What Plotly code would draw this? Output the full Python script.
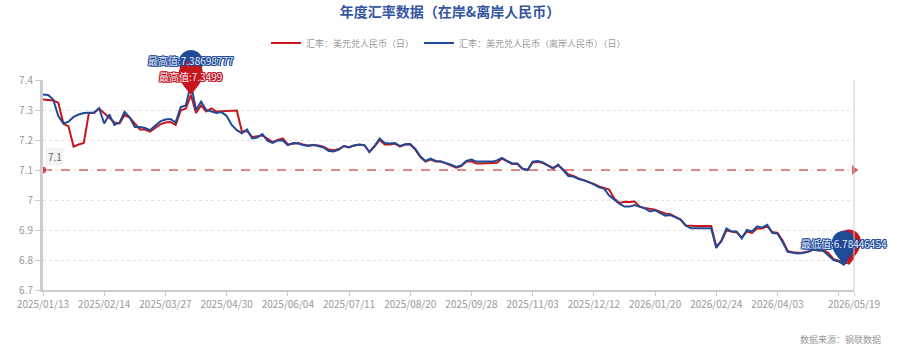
import plotly.graph_objects as go
import pandas as pd

# ---- category anchors (tick dates) ----
anchor_dates = ["2025-01-13", "2025-02-14", "2025-03-27", "2025-04-30", "2025-06-04",
                "2025-07-11", "2025-08-20", "2025-09-28", "2025-11-03", "2025-12-12",
                "2026-01-20", "2026-02-24", "2026-04-03", "2026-05-19"]
anchor_idx = [0, 12, 24, 36, 48, 60, 72, 84, 96, 108, 120, 132, 144, 159]

# ---- series values ----
offshore = [7.352, 7.350, 7.335, 7.280, 7.255, 7.261, 7.277, 7.285, 7.290, 7.290,
            7.292, 7.306, 7.255, 7.285, 7.250, 7.258, 7.294, 7.275, 7.243, 7.243,
            7.240, 7.233, 7.248, 7.262, 7.268, 7.270, 7.258, 7.310, 7.315, 7.38698777,
            7.300, 7.328, 7.300, 7.295, 7.290, 7.293, 7.280, 7.250, 7.233, 7.222,
            7.235, 7.205, 7.208, 7.220, 7.198, 7.190, 7.198, 7.198, 7.183, 7.190,
            7.188, 7.183, 7.180, 7.184, 7.180, 7.175, 7.163, 7.162, 7.168, 7.180,
            7.175, 7.182, 7.185, 7.183, 7.160, 7.180, 7.205, 7.190, 7.188, 7.190,
            7.180, 7.186, 7.187, 7.170, 7.145, 7.130, 7.138, 7.130, 7.128, 7.123,
            7.118, 7.110, 7.115, 7.130, 7.135, 7.128, 7.128, 7.128, 7.128, 7.132,
            7.140, 7.130, 7.122, 7.122, 7.104, 7.100, 7.128, 7.130, 7.125, 7.115,
            7.105, 7.118, 7.100, 7.080, 7.078, 7.070, 7.066, 7.060, 7.052, 7.042,
            7.038, 7.015, 7.000, 6.988, 6.978, 6.978, 6.983, 6.978, 6.972, 6.962,
            6.966, 6.956, 6.948, 6.950, 6.942, 6.935, 6.915, 6.906, 6.906, 6.906,
            6.906, 6.906, 6.840, 6.865, 6.905, 6.895, 6.895, 6.872, 6.900, 6.895,
            6.912, 6.908, 6.917, 6.890, 6.888, 6.860, 6.827, 6.824, 6.822, 6.823,
            6.827, 6.835, 6.832, 6.830, 6.815, 6.800, 6.795, 6.78446454, 6.805, 6.818]

onshore = [7.335, 7.334, 7.332, 7.324, 7.255, 7.245, 7.178, 7.185, 7.190, 7.290,
           7.290, 7.305, 7.290, 7.275, 7.258, 7.255, 7.283, 7.275, 7.253, 7.235,
           7.235, 7.228, 7.240, 7.252, 7.258, 7.260, 7.250, 7.298, 7.305, 7.3499,
           7.290, 7.315, 7.295, 7.305, 7.295, 7.296, 7.298, 7.298, 7.298, 7.228,
           7.230, 7.210, 7.212, 7.215, 7.205, 7.193, 7.200, 7.205, 7.185, 7.188,
           7.190, 7.185, 7.182, 7.183, 7.182, 7.178, 7.168, 7.166, 7.170, 7.180,
           7.176, 7.182, 7.184, 7.183, 7.160, 7.178, 7.200, 7.185, 7.185, 7.188,
           7.178, 7.185, 7.185, 7.168, 7.143, 7.128, 7.135, 7.128, 7.128, 7.122,
           7.116, 7.108, 7.113, 7.128, 7.128, 7.122, 7.122, 7.122, 7.122, 7.124,
           7.138, 7.128, 7.120, 7.120, 7.104, 7.100, 7.125, 7.127, 7.123, 7.115,
           7.107, 7.115, 7.102, 7.085, 7.080, 7.072, 7.066, 7.060, 7.054, 7.045,
           7.040, 7.035, 7.005, 6.990, 6.994, 6.993, 6.995, 6.978, 6.973, 6.970,
           6.968, 6.961, 6.955, 6.953, 6.944, 6.935, 6.915, 6.913, 6.913, 6.913,
           6.913, 6.913, 6.845, 6.862, 6.898, 6.895, 6.892, 6.875, 6.895, 6.890,
           6.905, 6.905, 6.912, 6.893, 6.890, 6.865, 6.830, 6.826, 6.824, 6.825,
           6.828, 6.835, 6.832, 6.833, 6.823, 6.803, 6.798, 6.792, 6.788, 6.810]

ref_value = 7.1
y_range = [6.7, 7.4]
name_on = "汇率：美元兑人民币（日）"
name_off = "汇率：美元兑人民币（离岸人民币）（日）"
title = "年度汇率数据（在岸&离岸人民币）"
source = "数据来源：钢联数据"

RED = "#c8161e"
BLUE = "#1f4a96"
FONT = "Noto Sans CJK SC"

# ---- build category list ----
dates = []
for k in range(len(anchor_idx) - 1):
    a, b = anchor_idx[k], anchor_idx[k + 1]
    rng = pd.date_range(anchor_dates[k], anchor_dates[k + 1], periods=b - a + 1).round("D")
    dates.extend([d.strftime("%Y/%m/%d") for d in rng][:-1])
dates.append(pd.Timestamp(anchor_dates[-1]).strftime("%Y/%m/%d"))
N = len(dates)

tick_idx = list(range(0, 157, 12)) + [159]
tickvals = [dates[i] for i in tick_idx]
ticktext = [dates[i] if (i in anchor_idx) else "" for i in tick_idx]

fig = go.Figure()
fig.add_trace(go.Scatter(x=dates, y=onshore, mode="lines", name=name_on,
                         line=dict(color=RED, width=2)))
fig.add_trace(go.Scatter(x=dates, y=offshore, mode="lines", name=name_off,
                         line=dict(color=BLUE, width=2)))
# mark line 7.1
fig.add_trace(go.Scatter(x=[dates[0], dates[-1]], y=[ref_value, ref_value],
                         mode="lines+markers", showlegend=False, cliponaxis=False,
                         line=dict(color=RED, width=1, dash="dash"),
                         marker=dict(symbol=["circle", "triangle-right"], size=[8, 10], color=RED)))

annotations = []
shapes = []

pin_path = ("M0,0 C-4,6 -12,12 -12,22 C-12,29 -6.6,34 0,34 "
            "C6.6,34 12,29 12,22 C12,12 4,6 0,0 Z")


def add_pin(idx, val, color, label, outline, shift):
    # anchor in axis-domain fractions so the pin is not clipped at the plot edge
    shapes.append(dict(type="path", xref="x domain", yref="y domain",
                       xsizemode="pixel", ysizemode="pixel",
                       xanchor=idx / (N - 1),
                       yanchor=(val - y_range[0]) / (y_range[1] - y_range[0]),
                       path=pin_path, fillcolor=color, line=dict(width=0), layer="above"))
    if label:
        sh = ",".join(f"{dx}px {dy}px 0 {outline}" for dx, dy in
                      [(1, 1), (-1, -1), (1, -1), (-1, 1), (1, 0), (-1, 0), (0, 1), (0, -1)])
        annotations.append(dict(x=dates[idx], y=val, xref="x", yref="y", yshift=shift,
                                text=label, showarrow=False,
                                font=dict(family=FONT, size=10, color="#e8eefa", shadow=sh)))


on_max_i = max(range(N), key=lambda i: onshore[i])
off_max_i = max(range(N), key=lambda i: offshore[i])
on_min_i = min(range(N), key=lambda i: onshore[i])
off_min_i = min(range(N), key=lambda i: offshore[i])

add_pin(off_max_i, offshore[off_max_i], BLUE, f"最高值:{offshore[off_max_i]}", BLUE, 23)
add_pin(on_max_i, onshore[on_max_i], RED, f"最高值:{onshore[on_max_i]}", RED, 19)
add_pin(on_min_i, onshore[on_min_i], RED, None, RED, 21)
add_pin(off_min_i, offshore[off_min_i], BLUE, f"最低值:{offshore[off_min_i]}", BLUE, 21)

# 7.1 label
annotations.append(dict(x=dates[0], y=ref_value, xref="x", yref="y", xanchor="left",
                        yanchor="bottom", xshift=3, yshift=4, text=str(ref_value),
                        showarrow=False, bgcolor="#f3f3f3",
                        font=dict(family=FONT, size=10, color="#666")))
# source
annotations.append(dict(x=1.036, y=-0.238, xref="paper", yref="paper", xanchor="right",
                        yanchor="middle", text=source, showarrow=False,
                        font=dict(family=FONT, size=9, color="#999")))

# right border
shapes.append(dict(type="line", xref="paper", yref="paper", x0=1, x1=1, y0=0, y1=1,
                   line=dict(color="#cccccc", width=1)))

fig.update_layout(
    width=900, height=351,
    margin=dict(l=43, r=46, t=80, b=61),
    plot_bgcolor="white", paper_bgcolor="white",
    font=dict(family=FONT, color="#999"),
    title=dict(text=title, x=0.5, xref="container", y=1 - 12 / 351, yref="container",
               xanchor="center", yanchor="middle",
               font=dict(family=FONT, size=14, color="#34559f", weight="bold")),
    legend=dict(orientation="h", x=0.5, xanchor="center", y=1 + 37 / 210, yanchor="middle",
                font=dict(family=FONT, size=9, color="#999"), itemwidth=30,
                bgcolor="rgba(0,0,0,0)"),
    annotations=annotations,
    shapes=shapes,
    xaxis=dict(type="category", range=[0, N - 1], showgrid=False,
               showline=True, linecolor="#cccccc", linewidth=2,
               ticks="outside", ticklen=4, tickcolor="#cccccc",
               tickvals=tickvals, ticktext=ticktext, tickangle=0,
               tickfont=dict(family=FONT, size=10, color="#999")),
    yaxis=dict(range=y_range, dtick=0.1, showgrid=True, gridcolor="#e3e3e3",
               griddash="dot", zeroline=False, showline=True, linecolor="#cccccc",
               linewidth=3, ticks="outside", ticklen=5, tickcolor="#cccccc",
               tickfont=dict(family=FONT, size=10, color="#999")),
)

fig.write_html("out.html")
